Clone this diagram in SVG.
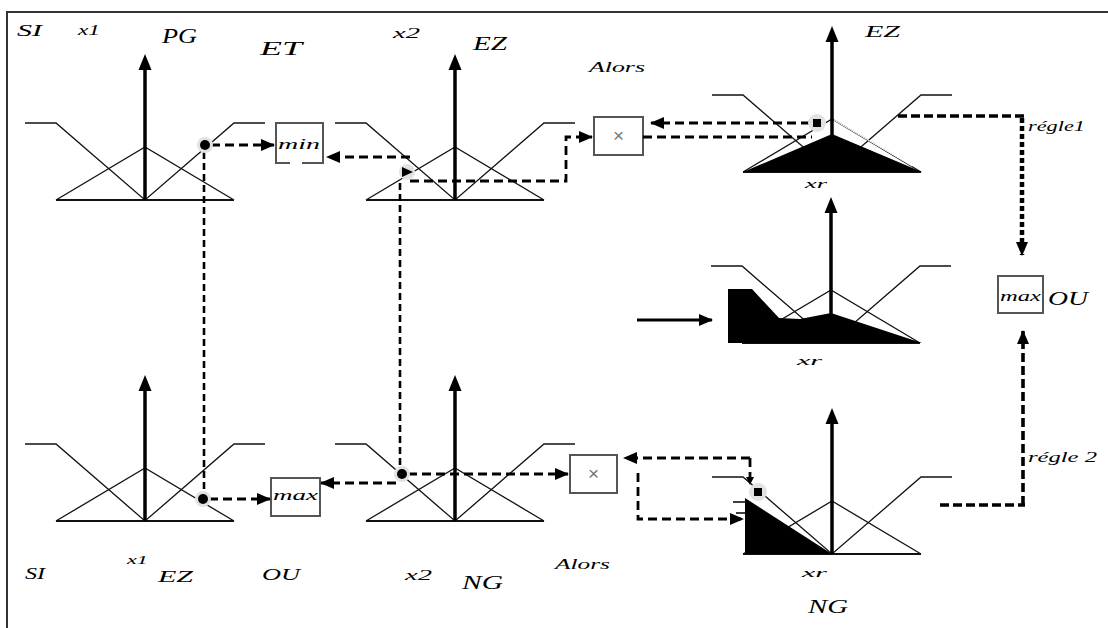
<svg xmlns="http://www.w3.org/2000/svg" xmlns:xlink="http://www.w3.org/1999/xlink" width="1108" height="628" viewBox="0 0 1108 628">
<style>
.mf{fill:none;stroke:#111;stroke-width:1.3}
.base{fill:none;stroke:#111;stroke-width:2}
.axis{fill:none;stroke:#000;stroke-width:3.5}
.lbl{font-family:"Liberation Serif",serif;font-style:italic;fill:#000}
.dash{fill:none;stroke:#000;stroke-width:2.8;stroke-dasharray:9 5}
.dashb{fill:none;stroke:#000;stroke-width:3.6;stroke-dasharray:9 4}
.vdash{fill:none;stroke:#000;stroke-width:2.6;stroke-dasharray:7 4}
.dots{fill:none;stroke:#000;stroke-width:4.5;stroke-dasharray:5 3}
.box{fill:#fff;stroke:#555;stroke-width:2}
.times{font-family:"Liberation Sans",sans-serif;fill:#777;font-size:19px}
.halo{fill:#e2e2e2}
.blk{fill:#000}
</style>
<defs>
<marker id="ah" viewBox="0 0 14 12" refX="13" refY="6" markerWidth="14" markerHeight="12" markerUnits="userSpaceOnUse" orient="auto"><path d="M0,0 L14,6 L0,12 z" fill="#000"/></marker>
<marker id="ahs" viewBox="0 0 8 8" refX="7" refY="4" markerWidth="8" markerHeight="8" markerUnits="userSpaceOnUse" orient="auto"><path d="M0,0 L8,4 L0,8 z" fill="#000"/></marker>
<g id="mfs">
<path class="mf" d="M-120,-77 H-89 L0,0 L89,-77 H120"/>
<path class="mf" d="M-89,0 L0,-53 L89,0"/>
<path class="base" d="M-89,0 H89"/>
<path class="axis" d="M0,0 V-134"/>
<path d="M0,-146 L-6.5,-130 L6.5,-130 z" fill="#000"/>
</g>
</defs>

<path d="M7,628 V12 H1108" fill="none" stroke="#333" stroke-width="2"/>

<g id="labels">
<text class="lbl" x="17" y="36" font-size="16" textLength="25" lengthAdjust="spacingAndGlyphs">SI</text>
<text class="lbl" x="78" y="35" font-size="14" textLength="22" lengthAdjust="spacingAndGlyphs">x1</text>
<text class="lbl" x="162" y="43" font-size="20" textLength="35" lengthAdjust="spacingAndGlyphs">PG</text>
<text class="lbl" x="260" y="55" font-size="19" textLength="42" lengthAdjust="spacingAndGlyphs">ET</text>
<text class="lbl" x="393" y="38" font-size="14" textLength="27" lengthAdjust="spacingAndGlyphs">x2</text>
<text class="lbl" x="473" y="50" font-size="18" textLength="34" lengthAdjust="spacingAndGlyphs">EZ</text>
<text class="lbl" x="589" y="72" font-size="15" textLength="56" lengthAdjust="spacingAndGlyphs">Alors</text>
<text class="lbl" x="865" y="37" font-size="16" textLength="35" lengthAdjust="spacingAndGlyphs">EZ</text>
<text class="lbl" x="805" y="188" font-size="12" textLength="22" lengthAdjust="spacingAndGlyphs">xr</text>
<text class="lbl" x="1028" y="131" font-size="15" textLength="57" lengthAdjust="spacingAndGlyphs">régle1</text>
<text class="lbl" x="797" y="365" font-size="12" textLength="25" lengthAdjust="spacingAndGlyphs">xr</text>
<text class="lbl" x="1048" y="305" font-size="18" textLength="40" lengthAdjust="spacingAndGlyphs">OU</text>
<text class="lbl" x="1028" y="462" font-size="15" textLength="69" lengthAdjust="spacingAndGlyphs">régle 2</text>
<text class="lbl" x="25" y="579" font-size="16" textLength="20" lengthAdjust="spacingAndGlyphs">SI</text>
<text class="lbl" x="127" y="564" font-size="13" textLength="21" lengthAdjust="spacingAndGlyphs">x1</text>
<text class="lbl" x="158" y="582" font-size="17" textLength="35" lengthAdjust="spacingAndGlyphs">EZ</text>
<text class="lbl" x="262" y="580" font-size="17" textLength="38" lengthAdjust="spacingAndGlyphs">OU</text>
<text class="lbl" x="405" y="580" font-size="14" textLength="27" lengthAdjust="spacingAndGlyphs">x2</text>
<text class="lbl" x="462" y="589" font-size="19" textLength="41" lengthAdjust="spacingAndGlyphs">NG</text>
<text class="lbl" x="555" y="569" font-size="15" textLength="55" lengthAdjust="spacingAndGlyphs">Alors</text>
<text class="lbl" x="802" y="577" font-size="12" textLength="25" lengthAdjust="spacingAndGlyphs">xr</text>
<text class="lbl" x="808" y="613" font-size="18" textLength="40" lengthAdjust="spacingAndGlyphs">NG</text>
</g>

<g id="panel-x1-PG"><use xlink:href="#mfs" href="#mfs" transform="translate(145,200)"/></g>
<g id="panel-x2-EZ"><use xlink:href="#mfs" href="#mfs" transform="translate(455,200)"/></g>
<g id="panel-xr-EZ">
<use xlink:href="#mfs" href="#mfs" transform="translate(832,172)"/>
<path class="blk" d="M743,172 L832,134 L922,172 z"/>
<path d="M834,120 L912,166" stroke="#fff" stroke-width="1" fill="none"/>
</g>
<g id="panel-x1-EZ"><use xlink:href="#mfs" href="#mfs" transform="translate(145,521)"/></g>
<g id="panel-x2-NG"><use xlink:href="#mfs" href="#mfs" transform="translate(455,521)"/></g>
<g id="panel-xr-NG">
<use xlink:href="#mfs" href="#mfs" transform="translate(832,554)"/>
<path class="blk" d="M745,498 L832,554 L745,554 z"/>
<path d="M733,502 H745 M736,513 H745" stroke="#000" stroke-width="1.3" fill="none"/>
</g>
<g id="panel-xr-out">
<use xlink:href="#mfs" href="#mfs" transform="translate(831,343)"/>
<path class="blk" d="M728,289 L752,289 L779,318 L800,319 L831,313 L922,343 L728,343 z"/>
</g>

<g id="node-min">
<path class="box" d="M290,163 H276 V123 H323 V163 H302"/>
<text class="lbl" x="278" y="149" font-size="15" textLength="42" lengthAdjust="spacingAndGlyphs">min</text>
</g>
<g id="node-max1">
<rect class="box" x="271" y="478" width="49" height="38"/>
<text class="lbl" x="273" y="500" font-size="15" textLength="45" lengthAdjust="spacingAndGlyphs">max</text>
</g>
<g id="node-prod1">
<rect class="box" x="594" y="117" width="49" height="38"/>
<text class="times" x="618.5" y="142" text-anchor="middle">×</text>
</g>
<g id="node-prod2">
<rect class="box" x="570" y="455" width="47" height="38"/>
<text class="times" x="593.5" y="480" text-anchor="middle">×</text>
</g>
<g id="node-max2">
<rect class="box" x="998" y="276" width="45" height="37"/>
<text class="lbl" x="1000" y="301" font-size="14" textLength="41" lengthAdjust="spacingAndGlyphs">max</text>
</g>

<g id="connectors">
<path class="dash" d="M211,145 H274" marker-end="url(#ah)"/>
<path class="vdash" d="M204,152 V492"/>
<path class="dash" d="M209,499 H270" marker-end="url(#ah)"/>
<path class="dash" d="M410,157 H327" marker-end="url(#ah)"/>
<path class="dash" d="M410,181 H566 V137 H592" marker-end="url(#ah)"/>
<path class="vdash" d="M400,183 V468"/>
<path class="dash" d="M408,474 H568" marker-end="url(#ah)"/>
<path class="dash" d="M396,483 H321" marker-end="url(#ah)"/>
<path class="dash" d="M810,123 H651" marker-end="url(#ah)"/>
<path class="dash" d="M643,137 H812"/>
<path class="dashb" d="M898,116 H1024"/>
<path class="dots" d="M1022,118 V255" marker-end="url(#ah)"/>
<path class="dashb" d="M940,505 H1025"/>
<path class="dashb" d="M1023,505 V331" marker-end="url(#ah)"/>
<path class="dash" d="M750,458 H624" marker-end="url(#ah)"/>
<path class="dash" d="M750,458 V484" marker-end="url(#ahs)"/>
<path class="dash" d="M638,473 V519 H743" marker-end="url(#ah)"/>
<path d="M637,320 H712" fill="none" stroke="#000" stroke-width="3" marker-end="url(#ah)"/>
</g>

<g id="markers">
<circle class="halo" cx="205" cy="145" r="8"/><circle cx="205" cy="145" r="5"/>
<circle class="halo" cx="203" cy="499" r="8"/><circle cx="203" cy="499" r="5"/>
<circle class="halo" cx="402" cy="474" r="8"/><circle cx="402" cy="474" r="5"/>
<circle class="halo" cx="407" cy="172" r="8"/><path d="M402,167 L413,172 L402,177 z"/>
<circle class="halo" cx="817" cy="123" r="9"/><rect x="813" y="119" width="8" height="8"/>
<circle class="halo" cx="758" cy="492" r="9"/><rect x="754" y="488" width="8" height="8"/>
</g>
</svg>
